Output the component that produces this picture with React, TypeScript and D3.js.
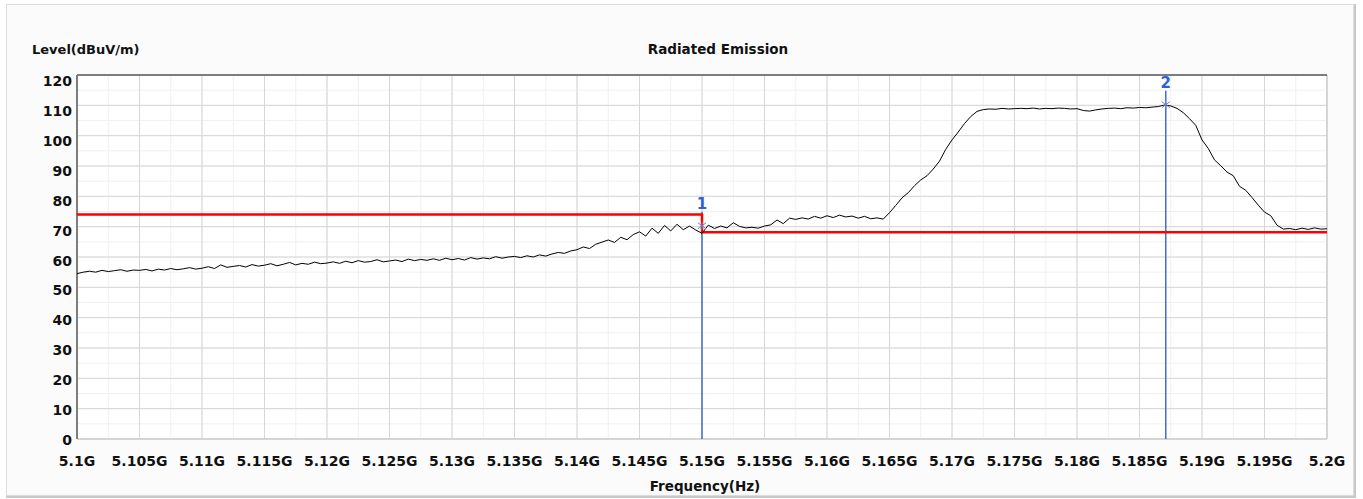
import React from "react";
import * as d3 from "d3";

// ---------- data ----------
const FREQ_START = 5.1; // GHz
const FREQ_STEP = 0.0005; // GHz between samples
// Measured level (dBuV/m), one value per FREQ_STEP from 5.100 GHz to 5.200 GHz
const levels: number[] = [
  54.5, 55.0, 55.3, 55.0, 55.6, 55.2, 55.5, 55.8, 55.3, 55.7,
  55.6, 55.9, 55.4, 56.0, 55.7, 56.2, 55.8, 56.1, 56.5, 56.0,
  56.3, 56.8, 56.2, 57.4, 56.6, 56.9, 57.2, 56.7, 57.5, 57.0,
  57.3, 57.8, 57.1, 57.6, 58.2, 57.4, 57.9, 57.6, 58.3, 57.8,
  58.0, 58.4, 57.9, 58.6, 58.1, 58.8, 58.3, 58.5, 59.1, 58.4,
  58.7, 59.0, 58.5, 59.3, 58.8, 59.2, 58.9, 59.4, 58.9, 59.6,
  59.1, 59.5, 59.0, 59.8, 59.3, 59.7, 59.4, 60.1, 59.6, 60.0,
  60.2, 59.8, 60.4, 60.0, 60.7, 60.3, 61.0, 61.5, 61.2, 62.0,
  62.4, 63.3, 62.8, 64.2, 64.9, 65.6, 64.8, 66.5, 65.7, 67.4,
  68.3, 66.9, 69.5, 67.8, 70.4, 68.6, 70.8, 69.0, 70.2, 68.9,
  67.8, 70.5, 69.4, 70.2, 69.6, 71.3, 70.1, 69.6, 69.8, 69.5,
  70.2, 70.6, 72.2, 71.0, 72.8, 72.4, 72.9, 72.5, 73.4, 72.8,
  73.6, 73.0, 73.8, 73.2, 73.5, 72.8, 73.4, 72.6, 72.9, 72.5,
  74.6, 77.0, 79.5, 81.2, 83.5, 85.4, 86.8, 89.0, 91.6, 95.5,
  98.6, 101.2, 104.0, 106.3, 108.0, 108.6, 108.8, 108.7, 109.0, 108.8,
  108.9, 109.0, 108.9, 109.1, 108.8, 109.0, 108.9, 109.1, 109.0, 108.8,
  108.9, 108.3, 108.1, 108.5, 108.8, 109.0, 109.1, 108.9, 109.2, 109.1,
  109.3, 109.2, 109.4, 109.6, 110.1, 109.8, 109.0, 107.6, 105.6, 103.4,
  98.6, 95.8, 92.0, 90.1, 88.0, 86.8, 83.3, 82.0, 79.6, 77.1,
  74.8, 73.6, 70.5, 69.2, 69.4, 69.0, 69.5, 69.1, 69.6, 69.2,
  69.3,
];

// Limit line: [frequency GHz, level dBuV/m]
const limitPoints: [number, number][] = [
  [5.1, 74],
  [5.15, 74],
  [5.15, 68.2],
  [5.2, 68.2],
];

const markerLabels = ["1", "2"];
const markerFreqs = [5.15, 5.1871];
const markerLevels = [70.3, 110.2];

const yTicks = [0, 10, 20, 30, 40, 50, 60, 70, 80, 90, 100, 110, 120];
const xTicks = [
  5.1, 5.105, 5.11, 5.115, 5.12, 5.125, 5.13, 5.135, 5.14, 5.145, 5.15,
  5.155, 5.16, 5.165, 5.17, 5.175, 5.18, 5.185, 5.19, 5.195, 5.2,
];
const xTickLabels = [
  "5.1G", "5.105G", "5.11G", "5.115G", "5.12G", "5.125G", "5.13G", "5.135G",
  "5.14G", "5.145G", "5.15G", "5.155G", "5.16G", "5.165G", "5.17G", "5.175G",
  "5.18G", "5.185G", "5.19G", "5.195G", "5.2G",
];

const TITLE = "Radiated Emission";
const Y_TITLE = "Level(dBuV/m)";
const X_TITLE = "Frequency(Hz)";

// ---------- layout ----------
const W = 1363;
const H = 499;
const left = 77;
const right = 1327;
const top = 75;
const bottom = 439;
const FONT = "'DejaVu Sans', Verdana, sans-serif";

export default function App() {
  const x = d3.scaleLinear().domain([5.1, 5.2]).range([left, right]);
  const y = d3.scaleLinear().domain([0, 120]).range([bottom, top]);

  const freqs = levels.map((_, i) => FREQ_START + i * FREQ_STEP);
  const trace = d3
    .line<number>()
    .x((_, i) => x(freqs[i]))
    .y((d) => y(d));
  const limit = d3
    .line<[number, number]>()
    .x((d) => x(d[0]))
    .y((d) => y(d[1]));

  const minorX = d3.range(0, 41).map((i) => 5.1 + i * 0.0025);
  const minorY = d3.range(0, 25).map((i) => i * 5);

  return (
    <svg
      width={W}
      height={H}
      style={{ position: "absolute", left: 0, top: 0, fontFamily: FONT }}
    >
      <rect x={0} y={0} width={W} height={H} fill="#ffffff" />
      {/* outer panel */}
      <rect x={6.5} y={4.5} width={1347} height={491} fill="#fbfbfb" stroke="#dcdcdc" strokeWidth={1} />
      <line x1={1355} x2={1355} y1={4} y2={497} stroke="#c8c8c8" strokeWidth={2} />
      <line x1={6} x2={1356} y1={497} y2={497} stroke="#c8c8c8" strokeWidth={2} />

      {/* plot area */}
      <rect x={left} y={top} width={right - left} height={bottom - top} fill="#ffffff" />

      {/* minor grid */}
      {minorX.map((f, i) => (
        <line key={"mx" + i} x1={x(f)} x2={x(f)} y1={top} y2={bottom} stroke="#f0f0f0" strokeWidth={1} />
      ))}
      {minorY.map((v, i) => (
        <line key={"my" + i} x1={left} x2={right} y1={y(v)} y2={y(v)} stroke="#f0f0f0" strokeWidth={1} />
      ))}
      {/* major grid */}
      {xTicks.map((f, i) => (
        <line key={"gx" + i} x1={x(f)} x2={x(f)} y1={top} y2={bottom} stroke="#d6d6d6" strokeWidth={1} />
      ))}
      {yTicks.map((v, i) => (
        <line key={"gy" + i} x1={left} x2={right} y1={y(v)} y2={y(v)} stroke="#d6d6d6" strokeWidth={1} />
      ))}

      {/* frame: sunken look */}
      <line x1={right} x2={right} y1={top} y2={bottom} stroke="#cfcfcf" strokeWidth={1.5} />
      <line x1={left} x2={right} y1={bottom} y2={bottom} stroke="#cfcfcf" strokeWidth={1.5} />
      <line x1={left} x2={right} y1={top} y2={top} stroke="#7d7d7d" strokeWidth={2} />
      <line x1={left} x2={left} y1={top} y2={bottom} stroke="#7d7d7d" strokeWidth={2} />

      {/* marker vertical lines */}
      {markerFreqs.map((f, i) => (
        <line
          key={"ml" + i}
          x1={x(f)}
          x2={x(f)}
          y1={y(markerLevels[i]) - 14}
          y2={bottom}
          stroke="#3f6fcf"
          strokeWidth={1.5}
        />
      ))}

      {/* limit line */}
      <path d={limit(limitPoints) || ""} fill="none" stroke="#ff0000" strokeWidth={2.5} />

      {/* trace */}
      <path d={trace(levels) || ""} fill="none" stroke="#000000" strokeWidth={1} />

      {/* markers */}
      {markerFreqs.map((f, i) => {
        const cx = x(f);
        const cy = y(markerLevels[i]);
        return (
          <g key={"mk" + i}>
            <path
              d={`M${cx - 4},${cy - 3}L${cx + 4},${cy + 3}M${cx - 4},${cy + 3}L${cx + 4},${cy - 3}M${cx},${cy - 4}L${cx},${cy + 4}`}
              stroke="#6a84c8"
              strokeWidth={1}
              fill="none"
            />
            <text
              x={cx}
              y={cy - 17}
              textAnchor="middle"
              fontSize={15}
              fontWeight="bold"
              fill="#2f5fd8"
            >
              {markerLabels[i]}
            </text>
          </g>
        );
      })}

      {/* y tick labels */}
      {yTicks.map((v, i) => (
        <text
          key={"yl" + i}
          x={72}
          y={y(v) + 6 + (v / 120) * 5}
          textAnchor="end"
          fontSize={14}
          fontWeight="bold"
          fill="#111"
        >
          {v}
        </text>
      ))}
      {/* x tick labels */}
      {xTicks.map((f, i) => (
        <text
          key={"xl" + i}
          x={x(f)}
          y={466}
          textAnchor="middle"
          fontSize={14}
          fontWeight="bold"
          fill="#111"
        >
          {xTickLabels[i]}
        </text>
      ))}

      {/* titles */}
      <text x={32} y={54} fontSize={13} fontWeight="bold" fill="#111">
        {Y_TITLE}
      </text>
      <text x={718} y={54} textAnchor="middle" fontSize={13.5} fontWeight="bold" fill="#111">
        {TITLE}
      </text>
      <text x={705} y={491} textAnchor="middle" fontSize={13.5} fontWeight="bold" fill="#111">
        {X_TITLE}
      </text>
    </svg>
  );
}
